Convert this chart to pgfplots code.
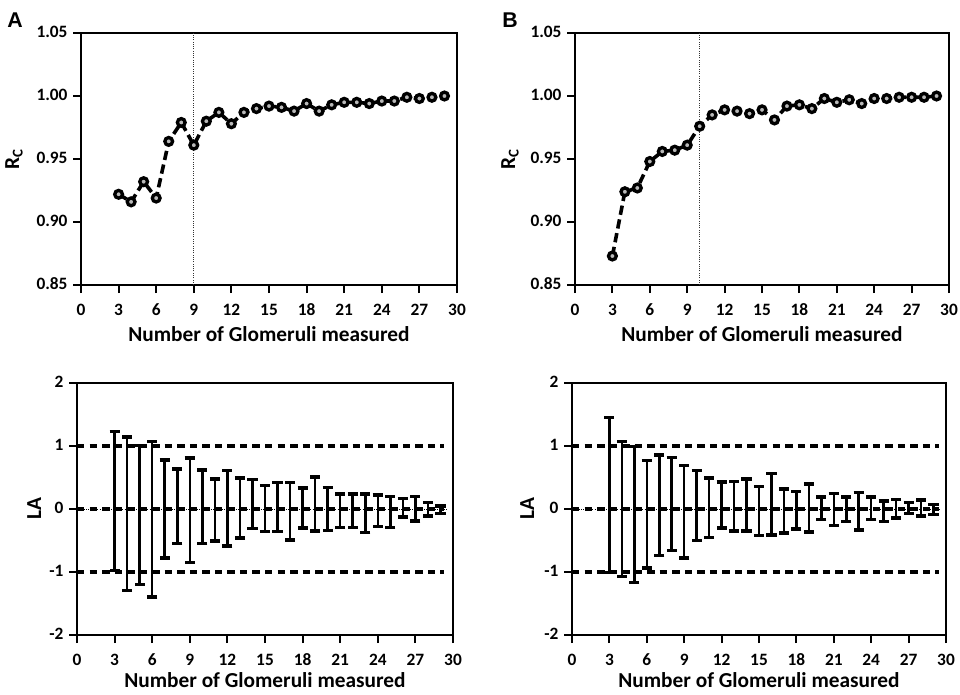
\documentclass[border=0pt]{standalone}
\usepackage{fontspec}
\setmainfont{Carlito}[Numbers=Lining]
\newfontfamily\panelfont{Liberation Sans}
\usepackage{pgfplots}
\usepackage{pgfplotstable}
\pgfplotsset{compat=1.18}

% R_C against number of glomeruli, panels A and B
\pgfplotstableread{
x y
3 0.922
4 0.916
5 0.932
6 0.919
7 0.964
8 0.979
9 0.961
10 0.980
11 0.987
12 0.978
13 0.987
14 0.990
15 0.992
16 0.991
17 0.988
18 0.994
19 0.988
20 0.993
21 0.995
22 0.995
23 0.994
24 0.996
25 0.996
26 0.999
27 0.998
28 0.999
29 1.000
}\rcA
\pgfplotstableread{
x y
3 0.873
4 0.924
5 0.927
6 0.948
7 0.956
8 0.957
9 0.961
10 0.976
11 0.985
12 0.989
13 0.988
14 0.986
15 0.989
16 0.981
17 0.992
18 0.993
19 0.990
20 0.998
21 0.995
22 0.997
23 0.994
24 0.998
25 0.998
26 0.999
27 0.999
28 0.999
29 1.000
}\rcB
% limits of agreement (range above / below zero)
\pgfplotstableread{
x y ep em
3 0 1.23 0.975
4 0 1.14 1.29
5 0 1.005 1.20
6 0 1.07 1.40
7 0 0.78 0.78
8 0 0.635 0.55
9 0 0.81 0.85
10 0 0.62 0.55
11 0 0.48 0.51
12 0 0.61 0.59
13 0 0.49 0.46
14 0 0.465 0.31
15 0 0.37 0.355
16 0 0.42 0.355
17 0 0.42 0.49
18 0 0.33 0.30
19 0 0.51 0.35
20 0 0.34 0.34
21 0 0.24 0.29
22 0 0.24 0.29
23 0 0.24 0.37
24 0 0.22 0.28
25 0 0.20 0.29
26 0 0.17 0.13
27 0 0.20 0.19
28 0 0.10 0.11
29 0 0.05 0.07
}\laA
\pgfplotstableread{
x y ep em
3 0 1.45 1.01
4 0 1.07 1.07
5 0 0.99 1.17
6 0 0.77 0.94
7 0 0.86 0.74
8 0 0.82 0.66
9 0 0.69 0.78
10 0 0.61 0.50
11 0 0.49 0.45
12 0 0.43 0.30
13 0 0.44 0.35
14 0 0.48 0.35
15 0 0.36 0.42
16 0 0.56 0.41
17 0 0.32 0.38
18 0 0.28 0.32
19 0 0.40 0.365
20 0 0.19 0.17
21 0 0.25 0.26
22 0 0.19 0.20
23 0 0.26 0.33
24 0 0.19 0.17
25 0 0.13 0.20
26 0 0.15 0.14
27 0 0.10 0.07
28 0 0.14 0.11
29 0 0.07 0.09
}\laB

\pgfplotsset{
  panel/.style={
    scale only axis,
    anchor=south west,
    height=189pt,
    line width=1.6pt,
    xmin=0, xmax=30,
    xtick={0,3,...,30},
    tick align=outside,
    xtick pos=bottom,
    ytick pos=left,
    major tick length=6pt,
    major tick style={black, line width=1.6pt},
    typeset ticklabels with strut,
    tick label style={font=\fontsize{13}{15}\selectfont\bfseries},
    xticklabel style={yshift=-2pt},
    label style={font=\fontsize{16}{18}\selectfont\bfseries},
    /pgf/number format/assume math mode=true,
    xlabel={Number of Glomeruli measured},
  },
  rc panel/.style={
    panel,
    ymin=0.85, ymax=1.05,
    ytick={0.85,0.9,0.95,1,1.05},
    yticklabel style={/pgf/number format/.cd, fixed, fixed zerofill, precision=2},
    ylabel={R\textsubscript{C}},
    xlabel style={at={(axis description cs:0.5,-0.226)}, anchor=base},
  },
  la panel/.style={
    panel,
    ymin=-2, ymax=2,
    ytick={-2,-1,0,1,2},
    ylabel={LA},
    xlabel style={at={(axis description cs:0.5,-0.21)}, anchor=base},
  },
  rc line/.style={
    black, line width=2.7pt, dash pattern=on 7pt off 3.5pt,
    mark=*, mark size=2.9pt,
    mark options={solid, fill=gray!55, draw=black, line width=2.5pt},
  },
  la limit/.style={black, line width=2.7pt, dash pattern=on 5.6pt off 3.8pt},
  la bars/.style={
    draw=none, mark=none,
    error bars/.cd, y dir=both, y explicit,
    error bar style={draw=black, solid, line width=1.9pt},
    error mark options={draw=black, solid, rotate=90, mark size=3.8pt, line width=2.6pt},
  },
}

\begin{document}
\begin{tikzpicture}
\useasboundingbox (0,0) rectangle (720pt,520.5pt);

\node[font=\panelfont\fontsize{16}{18}\selectfont\bfseries] at (11.25pt,505.5pt) {A};
\node[font=\panelfont\fontsize{16}{18}\selectfont\bfseries] at (382.5pt,505.5pt) {B};

% panel A, top
\begin{axis}[rc panel, at={(60.75pt,306.75pt)}, width=282pt,
  ylabel style={at={(axis description cs:-0.178,0.5)}, anchor=center}]
\addplot[black!80, line width=0.7pt, densely dotted] coordinates {(9,0.85) (9,1.05)};
\addplot[rc line] table[x=x, y=y] {\rcA};
\end{axis}

% panel B, top
\begin{axis}[rc panel, at={(431.25pt,306.75pt)}, width=280.5pt,
  ylabel style={at={(axis description cs:-0.174,0.5)}, anchor=center}]
\addplot[black!80, line width=0.7pt, densely dotted] coordinates {(10,0.85) (10,1.05)};
\addplot[rc line] table[x=x, y=y] {\rcB};
\end{axis}

% panel A, bottom
\begin{axis}[la panel, at={(57.75pt,44.25pt)}, width=282pt,
  ylabel style={at={(axis description cs:-0.114,0.5)}, anchor=center}]
\addplot[la limit] coordinates {(0,1) (29.3,1)};
\addplot[la limit] coordinates {(0,-1) (29.3,-1)};
\addplot[la limit] coordinates {(0,0) (29.3,0)};
\addplot[black, line width=0.7pt, densely dotted] coordinates {(0,0) (29.6,0)};
\addplot[la bars] table[x=x, y=y, y error plus=ep, y error minus=em] {\laA};
\end{axis}

% panel B, bottom
\begin{axis}[la panel, at={(429pt,44.25pt)}, width=280.5pt,
  ylabel style={at={(axis description cs:-0.12,0.5)}, anchor=center}]
\addplot[la limit] coordinates {(0,1) (29.4,1)};
\addplot[la limit] coordinates {(0,-1) (29.4,-1)};
\addplot[la limit] coordinates {(0,0) (29.4,0)};
\addplot[black, line width=0.7pt, densely dotted] coordinates {(0,0) (29.6,0)};
\addplot[la bars] table[x=x, y=y, y error plus=ep, y error minus=em] {\laB};
\end{axis}
\end{tikzpicture}
\end{document}
